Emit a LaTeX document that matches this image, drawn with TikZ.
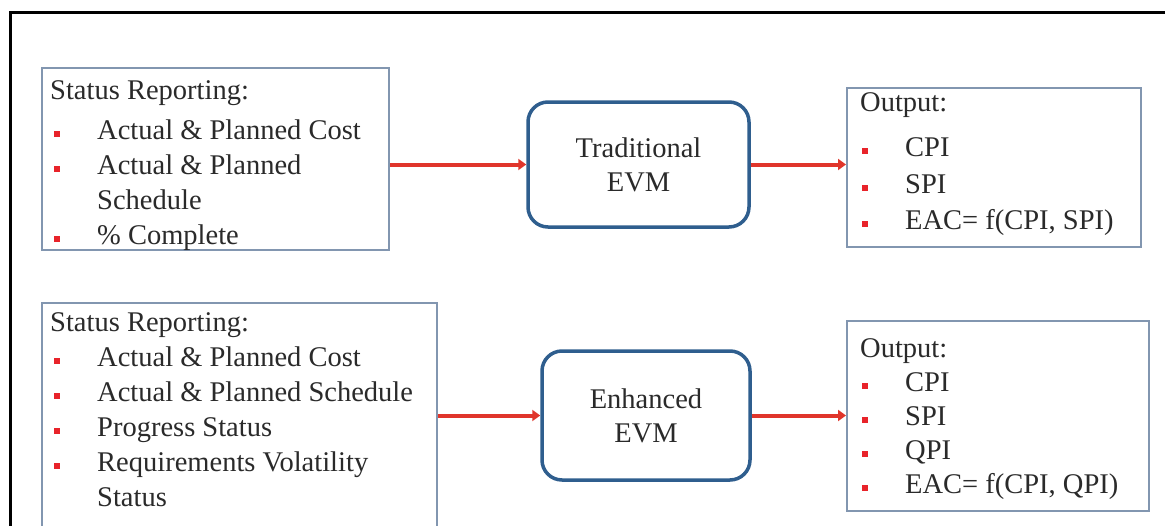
\documentclass[tikz,border=0pt]{standalone}
\usepackage{fontspec}
\setmainfont{Liberation Serif}
\usetikzlibrary{arrows.meta}
\definecolor{framegray}{HTML}{8296B0}
\definecolor{evmblue}{HTML}{2F5E8E}
\definecolor{arrowred}{HTML}{E0352B}
\definecolor{bulred}{HTML}{E8232A}
\definecolor{txtcol}{HTML}{2A2A2A}
\newcommand\bul[2]{\makebox[#1][l]{\hspace*{#2}\textcolor{bulred}{\rule[2.5pt]{6pt}{6pt}}}}
\begin{document}
\begin{tikzpicture}[x=1pt,y=-1pt,
  framebox/.style={draw=framegray,line width=2pt,inner sep=0pt},
  evmbox/.style={draw=evmblue,line width=3.5pt,rounded corners=20pt,align=center,
    font=\fontsize{28.5}{34}\selectfont,text=txtcol,inner sep=0pt},
  txtnode/.style={anchor=north west,inner sep=0pt,align=left,text=txtcol,
    font=\fontsize{28.5}{35}\selectfont},
  arr/.style={draw=arrowred,line width=4pt,-{Triangle[length=8pt,width=11pt]}}]
\useasboundingbox (0,0) rectangle (1165,525);
\clip (0,0) rectangle (1165,525);
\fill[white] (0,0) rectangle (1165,525);
% outer frame (top and left edges only)
\draw[line width=3pt,black] (10.5,540) -- (10.5,12.5) -- (1180,12.5);
% row 1
\node[framebox,minimum width=347pt,minimum height=182pt] (b1) at (215.5,159) {};
\node[txtnode] (b1txt) at (50,80.5) {Status Reporting:\\[5pt]
\bul{47pt}{4pt}Actual \& Planned Cost\\
\bul{47pt}{4pt}Actual \& Planned\\
\hspace*{47pt}Schedule\\
\bul{47pt}{4pt}\% Complete};
\node[evmbox,minimum width=221pt,minimum height=125pt] (t1) at (638.5,164.5) {Traditional\\EVM};
\node[framebox,minimum width=294pt,minimum height=159pt] (o1) at (994,167.5) {};
\node[txtnode,font=\fontsize{28.5}{36.5}\selectfont] (o1txt) at (860,92.5) {Output:\\[8.5pt]
\bul{45pt}{2pt}CPI\\
\bul{45pt}{2pt}SPI\\
\bul{45pt}{2pt}EAC= f(CPI, SPI)};
\draw[arr] (b1.east |- t1.west) -- (t1.west);
\draw[arr] (t1.east) -- (o1.west |- t1.east);
% row 2
\node[framebox,minimum width=395pt,minimum height=242pt] (b2) at (239.5,424) {};
\node[txtnode] (b2txt) at (50,312.5) {Status Reporting:\\
\bul{47pt}{4pt}Actual \& Planned Cost\\
\bul{47pt}{4pt}Actual \& Planned Schedule\\
\bul{47pt}{4pt}Progress Status\\
\bul{47pt}{4pt}Requirements Volatility\\
\hspace*{47pt}Status};
\node[evmbox,minimum width=208pt,minimum height=129pt] (e2) at (646,415.5) {Enhanced\\EVM};
\node[framebox,minimum width=302pt,minimum height=190pt] (o2) at (998,416) {};
\node[txtnode,font=\fontsize{28.5}{34}\selectfont] (o2txt) at (860,338.5) {Output:\\
\bul{45pt}{2pt}CPI\\
\bul{45pt}{2pt}SPI\\
\bul{45pt}{2pt}QPI\\
\bul{45pt}{2pt}EAC= f(CPI, QPI)};
\draw[arr] (b2.east |- e2.west) -- (e2.west);
\draw[arr] (e2.east) -- (o2.west |- e2.east);
\end{tikzpicture}
\end{document}
